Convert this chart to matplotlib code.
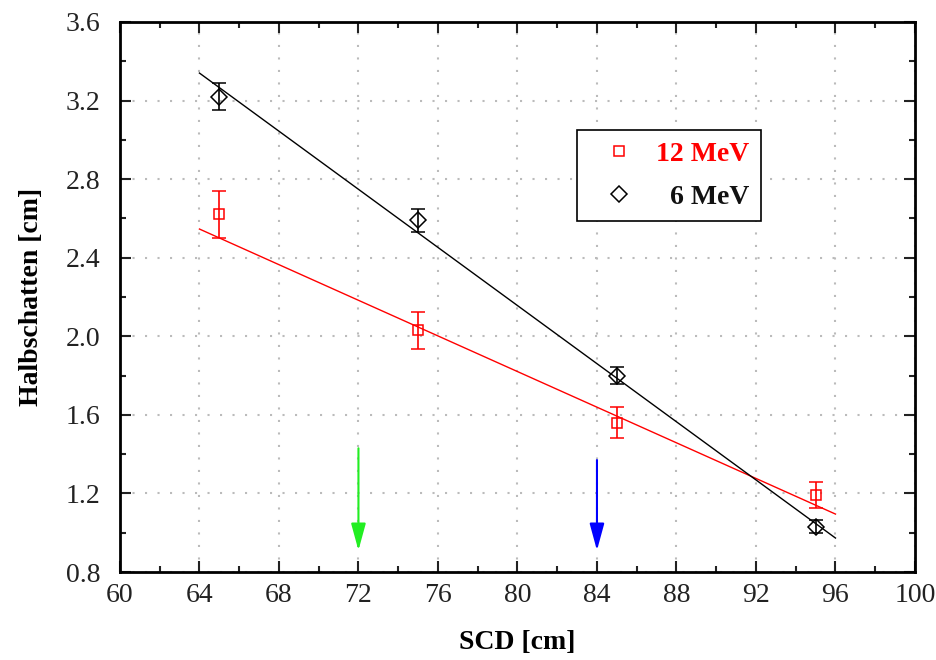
import numpy as np
import matplotlib.pyplot as plt
from matplotlib.lines import Line2D
from matplotlib.ticker import MultipleLocator

plt.rcParams['font.family'] = ['Liberation Serif', 'DejaVu Serif']

# Messwerte
scd = [65, 75, 85, 95]
hs_12 = [2.62, 2.03, 1.56, 1.19]
err_12 = [0.12, 0.095, 0.078, 0.066]
hs_6 = [3.22, 2.59, 1.80, 1.03]
err_6 = [0.07, 0.058, 0.045, 0.033]

# Fitgeraden (Werte an den Enden)
fit_x = [64, 96]
fit_12 = [2.546, 1.095]
fit_6 = [3.34, 0.973]

# Pfeile (SCD-Position, Start, Ende)
arrow_x = [72, 84]
arrow_top = [1.43, 1.37]
arrow_bottom = [0.91, 0.91]
arrow_colors = ['#22ee22', '#0000ff']

fig = plt.figure(figsize=(9.37, 6.6), dpi=100)
ax = fig.add_axes([0.128, 0.1333, 0.8485, 0.8334])

series = [
    (hs_12, err_12, fit_12, 'red', 's', 7, '12 MeV'),
    (hs_6, err_6, fit_6, 'black', 'D', 8, '6 MeV'),
]
handles = []
for y, e, f, col, mk, ms, lab in series:
    ax.plot(fit_x, f, color=col, lw=1)
    ax.errorbar(scd, y, yerr=e, fmt=mk, ms=ms, mfc='none', mec=col,
                ecolor=col, elinewidth=1.2, capsize=5, capthick=1.2,
                markeredgewidth=1.1, zorder=3)
    handles.append(Line2D([], [], ls='none', marker=mk, ms=ms, mfc='none',
                          mec=col, mew=1.1, label=lab))

for x, y0, y1, c in zip(arrow_x, arrow_top, arrow_bottom, arrow_colors):
    ax.annotate('', xy=(x, y1), xytext=(x, y0),
                arrowprops=dict(arrowstyle='-|>,head_length=1.1,head_width=0.3',
                                mutation_scale=15, color=c, lw=1.5,
                                shrinkA=0, shrinkB=0))

ax.set_xlim(60, 100)
ax.set_ylim(0.8, 3.6)
ax.xaxis.set_major_locator(MultipleLocator(4))
ax.xaxis.set_minor_locator(MultipleLocator(2))
ax.yaxis.set_major_locator(MultipleLocator(0.4))
ax.yaxis.set_minor_locator(MultipleLocator(0.2))
ax.yaxis.set_major_formatter(plt.FuncFormatter(lambda v, _: f'{v:.1f}'))
ax.tick_params(which='both', direction='in', top=True, right=True,
               labelsize=20, width=1.5, colors='#222222')
ax.tick_params(which='major', length=8)
ax.tick_params(which='minor', length=4)
ax.tick_params(axis='x', pad=8)
ax.tick_params(axis='y', pad=14)
for s in ax.spines.values():
    s.set_linewidth(2)
ax.grid(True, which='major', color='#bbbbbb', linestyle=(0, (1, 5)), lw=1.5)

ax.set_xlabel('SCD [cm]', fontsize=20, fontweight='bold', labelpad=16)
ax.set_ylabel('Halbschatten [cm]', fontsize=20, fontweight='bold', labelpad=16)

leg = ax.legend(handles=handles, loc='upper left', bbox_to_anchor=(0.575, 0.8036),
                borderaxespad=0, prop={'weight': 'bold', 'size': 20},
                fancybox=False, edgecolor='black', framealpha=1,
                handlelength=2.2, handletextpad=0.25, borderpad=0.4,
                labelspacing=0.65)
leg.get_frame().set_linewidth(1.2)
texts = leg.get_texts()
for t, c in zip(texts, ['red', '#111111']):
    t.set_color(c)

# Beschriftungen in der Legende rechtsbündig
fig.canvas.draw()
widths = [t.get_window_extent().width for t in texts]
for t, wt in zip(texts, widths):
    t.set_position((max(widths) - wt, 0))

fig.savefig('out.png', dpi=100)
